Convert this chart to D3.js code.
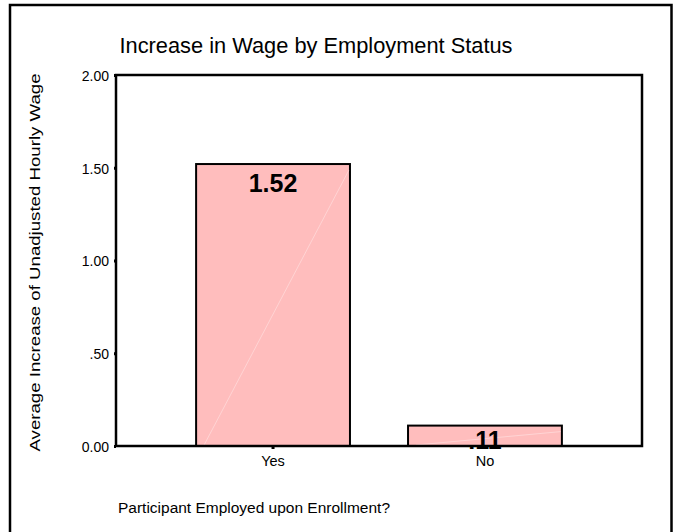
<!DOCTYPE html>
<html><head><meta charset="utf-8">
<script src="https://cdn.jsdelivr.net/npm/d3@7"></script>
<style>body{margin:0;background:#fff}svg{display:block;font-family:"Liberation Sans",Arial,sans-serif}</style>
</head><body><svg id="c" width="673" height="532"></svg>
<script>
const categories = ["Yes", "No"];
const values = [1.52, 0.11];
const valueLabels = ["1.52", ".11"];
const yTicks = [0, 0.5, 1.0, 1.5, 2.0];
const yTickLabels = ["0.00", ".50", "1.00", "1.50", "2.00"];

const svg = d3.select("#c");
const L = 116, R = 642, T = 75, B = 446;
const FF = "Liberation Sans, Arial, sans-serif";

svg.append("rect").attr("x", 10).attr("y", 5).attr("width", 661.5).attr("height", 540)
  .attr("fill", "#fff").attr("stroke", "#000").attr("stroke-width", 2.5);

const x = d3.scaleBand().domain(categories).range([L, R]).paddingInner(0.274).paddingOuter(0.378);
const y = d3.scaleLinear().domain([0, 2]).range([B, T]);

svg.append("text").attr("x", 316).attr("y", 53).attr("text-anchor", "middle")
  .attr("font-size", 22).attr("fill", "#000")
  .attr("textLength", 393).attr("lengthAdjust", "spacingAndGlyphs")
  .text("Increase in Wage by Employment Status");

// bars
svg.selectAll("rect.bar").data(values).join("rect").attr("class", "bar")
  .attr("x", (d, i) => x(categories[i])).attr("width", x.bandwidth())
  .attr("y", d => y(d)).attr("height", d => y(0) - y(d))
  .attr("fill", "#ffbdbd").attr("stroke", "#000").attr("stroke-width", 2);
// faint sheen line inside bars
svg.selectAll("line.sheen").data(values).join("line").attr("class", "sheen")
  .attr("x1", (d, i) => x(categories[i]) + 8).attr("y1", y(0) - 1)
  .attr("x2", (d, i) => x(categories[i]) + x.bandwidth() - 1).attr("y2", d => y(d) + 6)
  .attr("stroke", "#fff").attr("stroke-opacity", 0.35).attr("stroke-width", 1);

// frame
svg.append("rect").attr("x", L).attr("y", T).attr("width", R - L).attr("height", B - T)
  .attr("fill", "none").attr("stroke", "#000").attr("stroke-width", 2.5);

// y axis
const ya = svg.append("g").attr("transform", `translate(${L},0)`)
  .call(d3.axisLeft(y).tickValues(yTicks).tickSize(2).tickPadding(5)
    .tickFormat((d, i) => yTickLabels[i]));
ya.select(".domain").remove();
ya.selectAll(".tick line").attr("stroke", "#000").attr("stroke-width", 3);
ya.selectAll(".tick text").attr("font-size", 14).attr("fill", "#000")
  .attr("font-family", FF).attr("dy", "0.38em");

// x axis
const xa = svg.append("g").attr("transform", `translate(0,${B})`)
  .call(d3.axisBottom(x).tickSize(3).tickPadding(7));
xa.select(".domain").remove();
xa.selectAll(".tick line").attr("stroke", "#000").attr("stroke-width", 3);
xa.selectAll(".tick text").attr("font-size", 14.5).attr("fill", "#000")
  .attr("font-family", FF);

// value labels
svg.selectAll("text.vl").data(values).join("text").attr("class", "vl")
  .attr("x", (d, i) => x(categories[i]) + x.bandwidth() / 2)
  .attr("y", d => Math.min(y(d) + 28, y(0) + 3))
  .attr("text-anchor", "middle").attr("font-size", 25).attr("font-weight", "bold")
  .attr("fill", "#000").text((d, i) => valueLabels[i]);

// axis titles
svg.append("text").attr("transform", `translate(40,${(T + B) / 2 + 2}) rotate(-90)`)
  .attr("text-anchor", "middle").attr("font-size", 14).attr("fill", "#000")
  .attr("textLength", 378).attr("lengthAdjust", "spacingAndGlyphs")
  .text("Average Increase of Unadjusted Hourly Wage");
svg.append("text").attr("x", 118).attr("y", 513).attr("font-size", 14).attr("fill", "#000")
  .attr("textLength", 272).attr("lengthAdjust", "spacingAndGlyphs")
  .text("Participant Employed upon Enrollment?");
</script></body></html>
